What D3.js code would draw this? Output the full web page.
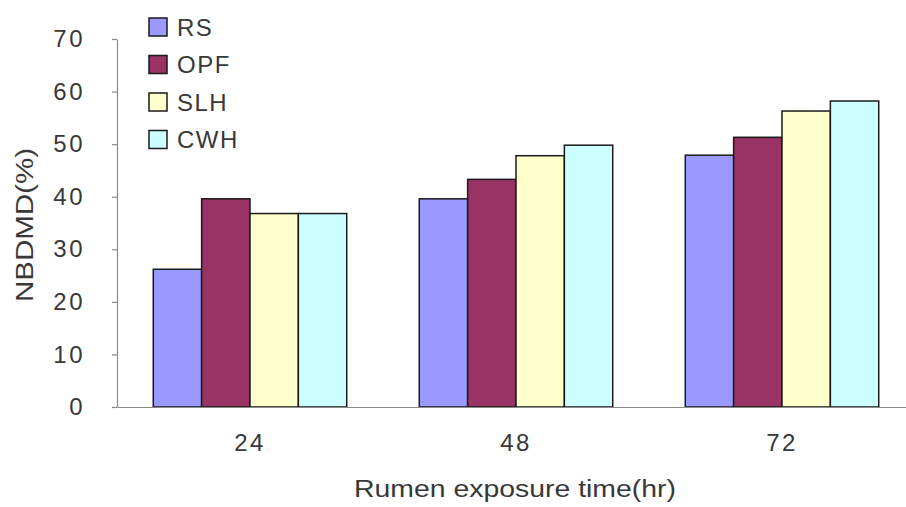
<!DOCTYPE html>
<html>
<head>
<meta charset="utf-8">
<script src="https://cdn.jsdelivr.net/npm/d3@7"></script>
<style>
  html, body { margin: 0; padding: 0; background: #fff; }
  svg { display: block; }
  text { font-family: "Liberation Sans", Arial, sans-serif; fill: #383838; }
</style>
</head>
<body>
<svg id="chart" width="906" height="507"></svg>
<script>
// Exposure times (hr) on the x axis
const categories = ["24", "48", "72"];
// Substrate series
const seriesNames = ["RS", "OPF", "SLH", "CWH"];
const seriesColors = ["#9999FF", "#993366", "#FFFFCC", "#CCFFFF"];
// NBDMD (%) for each series, per exposure time
const valuesRS  = [26.2, 39.6, 47.9];
const valuesOPF = [39.6, 43.3, 51.3];
const valuesSLH = [36.8, 47.8, 56.3];
const valuesCWH = [36.8, 49.8, 58.2];
const yTicks = [0, 10, 20, 30, 40, 50, 60, 70];

const series = [valuesRS, valuesOPF, valuesSLH, valuesCWH];
const textColor = "#383838";

const svg = d3.select("#chart");
const plot = { left: 117, right: 915, top: 39, bottom: 407 };

const y = d3.scaleLinear().domain([0, 70]).range([plot.bottom, plot.top]);
const gap = 1.5 / 5.5;
const x0 = d3.scaleBand().domain(categories)
  .range([plot.left, plot.right])
  .paddingInner(gap).paddingOuter(gap / 2);
const x1 = d3.scaleBand().domain(seriesNames).range([0, x0.bandwidth()]);

// Bars
const groups = svg.append("g").selectAll("g")
  .data(categories)
  .join("g")
  .attr("transform", d => `translate(${x0(d)},0)`);

groups.selectAll("rect")
  .data((c, ci) => seriesNames.map((s, si) => ({ s, si, v: series[si][ci] })))
  .join("rect")
  .attr("x", d => x1(d.s))
  .attr("y", d => y(d.v))
  .attr("width", x1.bandwidth())
  .attr("height", d => y(0) - y(d.v))
  .attr("fill", d => seriesColors[d.si])
  .attr("stroke", "#1a1a1a")
  .attr("stroke-width", 1.5);

// Y axis
const yAxis = svg.append("g")
  .attr("transform", `translate(${plot.left},0)`)
  .call(d3.axisLeft(y).tickValues(yTicks).tickSize(5).tickSizeOuter(0).tickPadding(27));
yAxis.select(".domain").attr("stroke", "#8a8a8a").attr("stroke-width", 1.2);
yAxis.selectAll(".tick line").attr("stroke", "#8a8a8a").attr("stroke-width", 1.2);
yAxis.selectAll(".tick text")
  .attr("font-size", 24)
  .attr("letter-spacing", 2.5)
  .attr("font-family", "Liberation Sans, Arial, sans-serif")
  .attr("fill", textColor);

// X axis baseline and category labels
const xAxis = svg.append("g")
  .attr("transform", `translate(0,${plot.bottom})`)
  .call(d3.axisBottom(x0).tickSize(0).tickPadding(27));
xAxis.select(".domain").attr("stroke", "#8a8a8a").attr("stroke-width", 1.2);
xAxis.selectAll(".tick text")
  .attr("font-size", 24)
  .attr("letter-spacing", 2.5)
  .attr("font-family", "Liberation Sans, Arial, sans-serif")
  .attr("fill", textColor);

// Axis titles
svg.append("text")
  .attr("x", 515).attr("y", 497)
  .attr("text-anchor", "middle")
  .attr("font-size", 23)
  .attr("textLength", 322)
  .attr("lengthAdjust", "spacingAndGlyphs")
  .text("Rumen exposure time(hr)");

svg.append("text")
  .attr("transform", "translate(33,225) rotate(-90)")
  .attr("text-anchor", "middle")
  .attr("font-size", 23)
  .attr("textLength", 154)
  .attr("lengthAdjust", "spacingAndGlyphs")
  .text("NBDMD(%)");

// Legend
const legend = svg.append("g").selectAll("g")
  .data(seriesNames)
  .join("g")
  .attr("transform", (d, i) => `translate(149,${27 + i * 37.5})`);
legend.append("rect")
  .attr("x", 0).attr("y", -9)
  .attr("width", 18).attr("height", 18)
  .attr("fill", (d, i) => seriesColors[i])
  .attr("stroke", "#1a1a1a")
  .attr("stroke-width", 1.5);
legend.append("text")
  .attr("x", 28).attr("y", 0)
  .attr("dy", "0.36em")
  .attr("font-size", 24)
  .attr("letter-spacing", 1.5)
  .text(d => d);
</script>
</body>
</html>
